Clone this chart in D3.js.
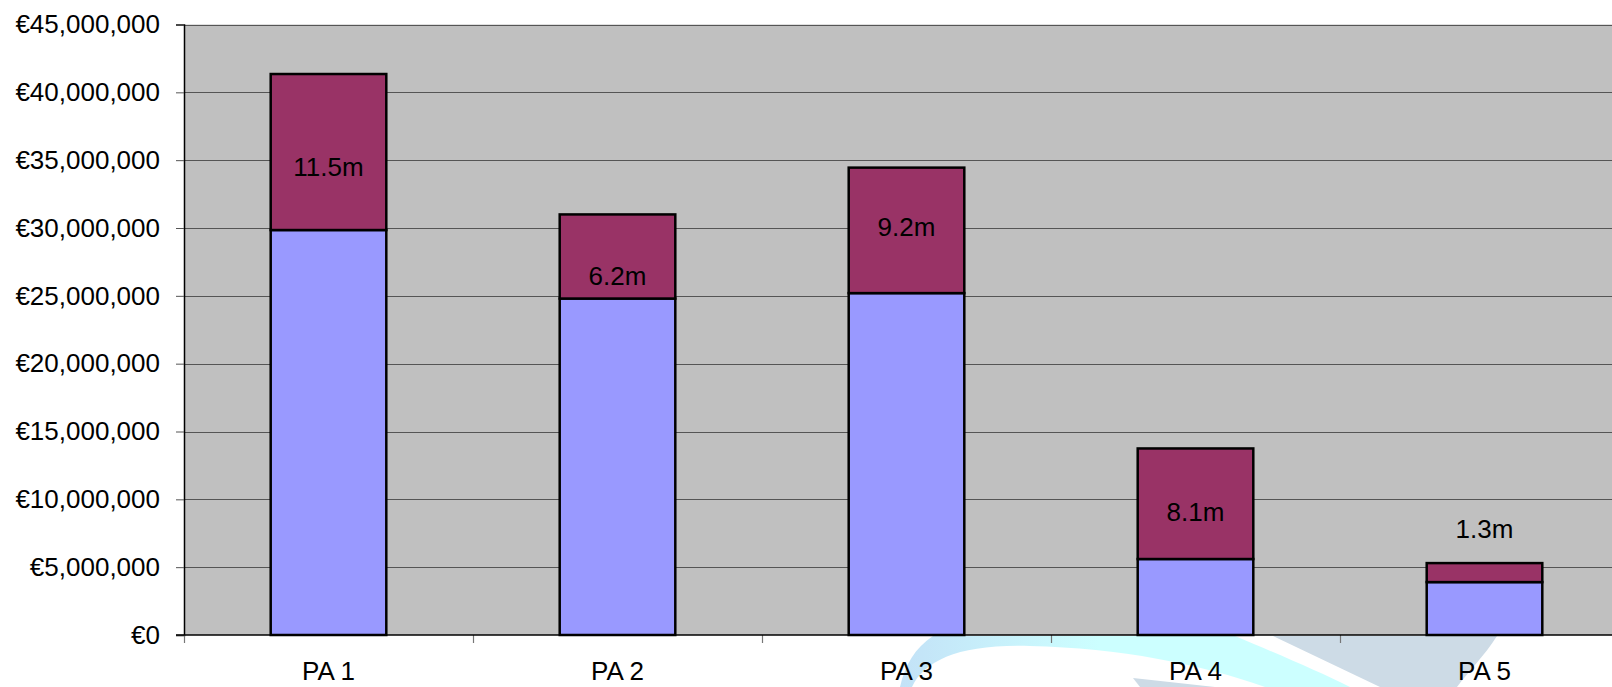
<!DOCTYPE html>
<html>
<head>
<meta charset="utf-8">
<script src="https://cdn.jsdelivr.net/npm/d3@7"></script>
<style>
  body { margin: 0; background: #fff; overflow: hidden; }
  svg { display: block; font-family: "Liberation Sans", Arial, sans-serif; }
</style>
</head>
<body>
<div id="chart"></div>
<script>
// values in euro
let categories = ["PA 1", "PA 2", "PA 3", "PA 4", "PA 5"];
let lowerValues = [29.85e6, 24.8e6, 25.2e6, 5.6e6, 3.9e6];
let upperValues = [11.5e6, 6.2e6, 9.25e6, 8.15e6, 1.4e6];
let upperLabels = ["11.5m", "6.2m", "9.2m", "8.1m", "1.3m"];
// where each label sits (euro value on the y axis)
let labelAt = [34.5e6, 26.5e6, 30.1e6, 9.1e6, 7.8e6];
let yTicks = d3.range(0, 45e6 + 1, 5e6);

let W = 1612, H = 687;
let margin = { top: 24.5, left: 184 };
let step = 289;
let plotW = step * categories.length;
let plotBottom = 635;
let fontSize = 26;

let svg = d3.select("#chart")
    .append("svg")
    .attr("width", W)
    .attr("height", H);

// faint logo watermark behind the chart
let defs = svg.append("defs");
let grad = defs.append("linearGradient")
    .attr("id", "wm")
    .attr("gradientUnits", "userSpaceOnUse")
    .attr("x1", 900).attr("x2", 1100).attr("y1", 0).attr("y2", 0);
grad.append("stop").attr("offset", 0).attr("stop-color", "#c3e2f7");
grad.append("stop").attr("offset", 1).attr("stop-color", "#ccffff");
let wm = svg.append("g");
wm.append("path")
    .attr("d", "M900,687 C905,665 915,648 933,636 L1235,636 C1280,655 1320,672 1350,687 L1265,687 " +
        "C1200,664 1120,648 1030,646 C960,644 925,660 912,687 Z")
    .attr("fill", "url(#wm)");
wm.append("path")
    .attr("d", "M1133,678 L1215,687 L1140,687 Z")
    .attr("fill", "#cddbe6");
wm.append("path")
    .attr("d", "M1273,636 L1497,636 C1485,655 1468,672 1457,687 L1380,687 Z")
    .attr("fill", "#cddbe6");

let x = d3.scaleBand()
    .domain(categories)
    .range([margin.left, margin.left + plotW])
    .paddingInner(0.6)
    .paddingOuter(0.3);

let y = d3.scaleLinear()
    .domain([0, 45e6])
    .range([plotBottom, margin.top]);

// plot area
svg.append("rect")
    .attr("x", margin.left)
    .attr("y", margin.top)
    .attr("width", plotW)
    .attr("height", plotBottom - margin.top)
    .attr("fill", "#c0c0c0");

// gridlines
svg.append("g")
    .selectAll("line")
    .data(yTicks.filter(d => d > 0))
    .join("line")
    .attr("x1", margin.left)
    .attr("x2", margin.left + plotW)
    .attr("y1", d => Math.round(y(d)) + 0.5)
    .attr("y2", d => Math.round(y(d)) + 0.5)
    .attr("stroke", "#555")
    .attr("stroke-width", 1.2);

// y axis
let yAxis = d3.axisLeft(y)
    .tickValues(yTicks)
    .tickSize(8)
    .tickPadding(16)
    .tickFormat(d => "€" + d3.format(",")(d));
let gy = svg.append("g")
    .attr("transform", "translate(" + margin.left + ",0)")
    .call(yAxis);
gy.select(".domain").attr("stroke", "#000").attr("stroke-width", 1.5);
gy.selectAll(".tick line").attr("stroke", "#555");
gy.selectAll("text")
    .attr("font-size", fontSize)
    .attr("font-family", "Liberation Sans, Arial, sans-serif")
    .attr("fill", "#000");

// bars
let bars = svg.append("g");
bars.selectAll(".lower")
    .data(categories)
    .join("rect")
    .attr("class", "lower")
    .attr("x", d => x(d))
    .attr("width", x.bandwidth())
    .attr("y", (d, i) => y(lowerValues[i]))
    .attr("height", (d, i) => y(0) - y(lowerValues[i]))
    .attr("fill", "#9999ff")
    .attr("stroke", "#000")
    .attr("stroke-width", 2.5);
bars.selectAll(".upper")
    .data(categories)
    .join("rect")
    .attr("class", "upper")
    .attr("x", d => x(d))
    .attr("width", x.bandwidth())
    .attr("y", (d, i) => y(lowerValues[i] + upperValues[i]))
    .attr("height", (d, i) => y(lowerValues[i]) - y(lowerValues[i] + upperValues[i]))
    .attr("fill", "#993366")
    .attr("stroke", "#000")
    .attr("stroke-width", 2.5);

// x axis
let xTicks = d3.range(categories.length + 1).map(i => margin.left + i * step);
svg.append("g")
    .selectAll("line")
    .data(xTicks)
    .join("line")
    .attr("x1", d => d + 0.5)
    .attr("x2", d => d + 0.5)
    .attr("y1", plotBottom)
    .attr("y2", plotBottom + 8)
    .attr("stroke", "#777")
    .attr("stroke-width", 1.2);
svg.append("line")
    .attr("x1", margin.left - 8)
    .attr("x2", margin.left + plotW)
    .attr("y1", plotBottom)
    .attr("y2", plotBottom)
    .attr("stroke", "#000")
    .attr("stroke-width", 1.5);

svg.append("g")
    .selectAll("text")
    .data(categories)
    .join("text")
    .attr("x", d => x(d) + x.bandwidth() / 2)
    .attr("y", 680)
    .attr("text-anchor", "middle")
    .attr("font-size", fontSize)
    .text(d => d);

// labels on the upper segment
svg.append("g")
    .selectAll("text")
    .data(categories)
    .join("text")
    .attr("x", d => x(d) + x.bandwidth() / 2)
    .attr("y", (d, i) => y(labelAt[i]))
    .attr("dy", "0.35em")
    .attr("text-anchor", "middle")
    .attr("font-size", fontSize)
    .text((d, i) => upperLabels[i]);
</script>
</body>
</html>
